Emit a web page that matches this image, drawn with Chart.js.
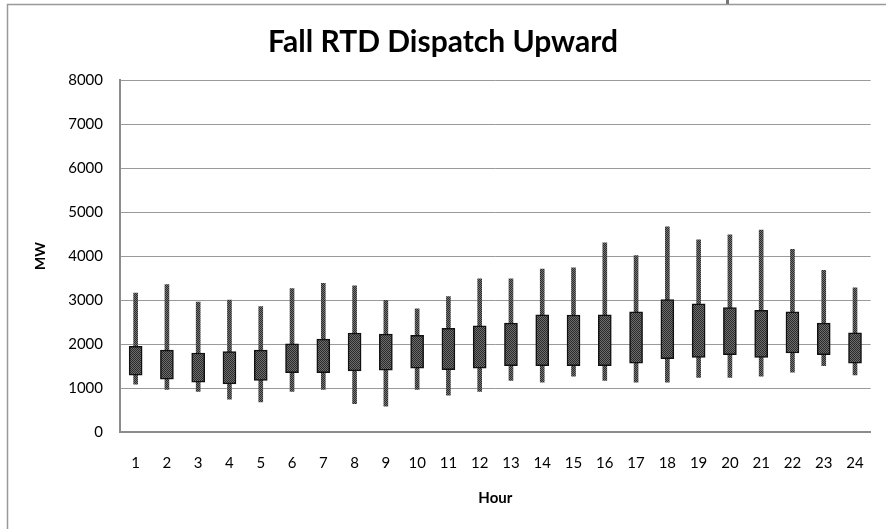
<!DOCTYPE html>
<html>
<head>
<meta charset="utf-8">
<script src="https://cdn.jsdelivr.net/npm/chart.js@4"></script>
<style>
  html, body { margin: 0; padding: 0; background: #fff; }
  #wrap { width: 886px; height: 529px; }
</style>
</head>
<body>
<div id="wrap"><canvas id="chart" width="886" height="529"></canvas></div>
<script>
// ====== DATA ======
const hours = ["1","2","3","4","5","6","7","8","9","10","11","12","13","14","15","16","17","18","19","20","21","22","23","24"];
const whiskerLow  = [1085, 965, 920, 745, 685, 920, 965, 645, 585, 965, 835, 920, 1170, 1135, 1270, 1170, 1135, 1135, 1240, 1240, 1270, 1360, 1510, 1300];
const boxLow      = [1290, 1200, 1135, 1095, 1175, 1350, 1350, 1390, 1405, 1450, 1415, 1450, 1505, 1505, 1505, 1505, 1565, 1665, 1695, 1755, 1695, 1795, 1755, 1565];
const boxHigh     = [1945, 1860, 1795, 1825, 1860, 2005, 2110, 2250, 2225, 2195, 2355, 2415, 2475, 2665, 2660, 2665, 2730, 3010, 2915, 2825, 2765, 2730, 2475, 2255];
const whiskerHigh = [3160, 3350, 2950, 3000, 2850, 3260, 3380, 3320, 2990, 2800, 3080, 3480, 3480, 3700, 3730, 4300, 4010, 4665, 4370, 4480, 4590, 4150, 3675, 3275];
const yTicks = [0, 1000, 2000, 3000, 4000, 5000, 6000, 7000, 8000];

// ====== PATTERNS (dithered fill like the print) ======
function dither(a, b) {
  const c = document.createElement("canvas");
  c.width = 2; c.height = 2;
  const x = c.getContext("2d");
  x.fillStyle = a; x.fillRect(0, 0, 2, 2);
  x.fillStyle = b; x.fillRect(0, 0, 1, 1); x.fillRect(1, 1, 1, 1);
  return x.createPattern(c, "repeat");
}

const ctx = document.getElementById("chart").getContext("2d");
const whiskerFill = dither("#767676", "#2a2a2a");
const boxFill = dither("#6e6e6e", "#2a2a2a");

// ====== FRAME ======
const framePlugin = {
  id: "frame",
  beforeDraw(chart) {
    const c = chart.ctx;
    c.save();
    c.fillStyle = "#fff";
    c.fillRect(0, 0, chart.width, chart.height);
    c.restore();
  },
  afterDraw(chart) {
    const c = chart.ctx;
    c.save();
    c.strokeStyle = "#999";
    c.lineWidth = 1.5;
    c.beginPath();
    c.moveTo(7.5, chart.height);
    c.lineTo(7.5, 4.5);
    c.lineTo(chart.width, 4.5);
    c.stroke();
    c.fillStyle = "#777";
    c.fillRect(726, 0, 3, 4);
    c.restore();
  }
};

// ====== CHART ======
new Chart(ctx, {
  type: "bar",
  data: {
    labels: hours,
    datasets: [
      {
        label: "box",
        data: hours.map((h, i) => [boxLow[i], boxHigh[i]]),
        backgroundColor: boxFill,
        borderColor: "#111",
        borderWidth: 1.5,
        borderSkipped: false,
        barThickness: 13,
        grouped: false,
        order: 0
      },
      {
        label: "whisker",
        data: hours.map((h, i) => [whiskerLow[i], whiskerHigh[i]]),
        backgroundColor: whiskerFill,
        borderWidth: 0,
        barThickness: 4,
        grouped: false,
        order: 1
      }
    ]
  },
  options: {
    responsive: false,
    animation: false,
    layout: { padding: { left: 14, right: 14, top: 16, bottom: 7 } },
    plugins: {
      legend: { display: false },
      tooltip: { enabled: false },
      title: {
        display: true,
        text: "Fall RTD Dispatch Upward",
        color: "#000",
        font: { family: "Lato", size: 30, weight: "bold" },
        padding: { top: 8, bottom: 20 }
      }
    },
    scales: {
      x: {
        grid: { display: false, drawTicks: false },
        border: { color: "#8c8c8c", width: 2 },
        ticks: { color: "#000", font: { family: "Lato", size: 15 }, padding: 22, maxRotation: 0 },
        title: {
          display: true, text: "Hour", color: "#000",
          font: { family: "Lato", size: 15, weight: "bold" },
          padding: { top: 14, bottom: 15 }
        },
        afterFit: s => { s.height = 90; }
      },
      y: {
        min: 0, max: 8000,
        afterBuildTicks: s => { s.ticks = yTicks.map(v => ({ value: v })); },
        grid: { color: "#9a9a9a", lineWidth: 1, drawTicks: false },
        border: { color: "#8c8c8c", width: 2 },
        ticks: { color: "#000", font: { family: "Lato", size: 15 }, padding: 17, callback: v => String(v) },
        title: {
          display: true, text: "MW", color: "#000",
          font: { family: "Lato", size: 14, weight: "bold" },
          padding: { top: 18, bottom: 0 }
        },
        afterFit: s => { s.width = 106; }
      }
    }
  },
  plugins: [framePlugin]
});
</script>
</body>
</html>
